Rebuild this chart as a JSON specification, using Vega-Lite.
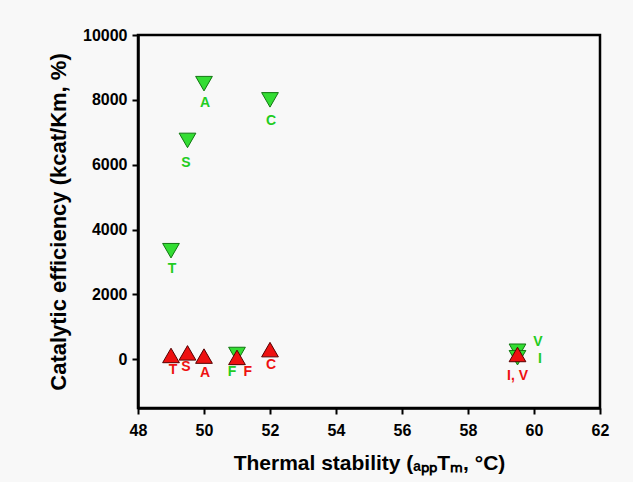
{
  "$schema": "https://vega.github.io/schema/vega-lite/v6.json",
  "width": 462,
  "height": 373,
  "autosize": "none",
  "padding": {"left": 138, "top": 35, "right": 33, "bottom": 74},
  "background": "#f8f8f8",
  "config": {"view": {"stroke": "black", "strokeWidth": 2.5}, "font": "Liberation Sans"},
  "datasets": {
    "points": [
      {"series": "green", "mutant": "T", "tm": 49, "eff": 3350},
      {"series": "green", "mutant": "S", "tm": 49.5, "eff": 6750},
      {"series": "green", "mutant": "A", "tm": 50, "eff": 8500},
      {"series": "green", "mutant": "C", "tm": 52, "eff": 8000},
      {"series": "green", "mutant": "F", "tm": 51, "eff": 150},
      {"series": "green", "mutant": "V", "tm": 59.5, "eff": 250},
      {"series": "green", "mutant": "I", "tm": 59.5, "eff": 50},
      {"series": "red", "mutant": "T", "tm": 49, "eff": 120},
      {"series": "red", "mutant": "S", "tm": 49.5, "eff": 200},
      {"series": "red", "mutant": "A", "tm": 50, "eff": 100},
      {"series": "red", "mutant": "F", "tm": 51, "eff": 60},
      {"series": "red", "mutant": "C", "tm": 52, "eff": 300},
      {"series": "red", "mutant": "I, V", "tm": 59.5, "eff": 150}
    ],
    "labels": [
      {"series": "green", "text": "T", "lx": 49.03, "ly": 2800},
      {"series": "green", "text": "S", "lx": 49.45, "ly": 6060},
      {"series": "green", "text": "A", "lx": 50.03, "ly": 7900},
      {"series": "green", "text": "C", "lx": 52.03, "ly": 7350},
      {"series": "green", "text": "F", "lx": 50.85, "ly": -400},
      {"series": "green", "text": "V", "lx": 60.12, "ly": 520},
      {"series": "green", "text": "I", "lx": 60.18, "ly": 0},
      {"series": "red", "text": "T", "lx": 49.06, "ly": -340},
      {"series": "red", "text": "S", "lx": 49.45, "ly": -250},
      {"series": "red", "text": "A", "lx": 50.03, "ly": -430},
      {"series": "red", "text": "F", "lx": 51.33, "ly": -400},
      {"series": "red", "text": "C", "lx": 52.03, "ly": -180},
      {"series": "red", "text": "I, V", "lx": 59.5, "ly": -520}
    ]
  },
  "layer": [
    {
      "data": {"name": "points"},
      "mark": {"type": "point", "filled": true, "size": 280, "strokeWidth": 1, "opacity": 1},
      "encoding": {
        "x": {
          "field": "tm", "type": "quantitative",
          "scale": {"domain": [48, 62], "nice": false, "zero": false},
          "axis": {
            "values": [48, 50, 52, 54, 56, 58, 60, 62],
            "title": "Thermal stability (ₐₚₚTₘ, °C)",
            "grid": false, "domainColor": "black", "domainWidth": 2.5,
            "tickColor": "black", "tickWidth": 2, "tickSize": 6,
            "labelFontSize": 16, "labelFontWeight": "bold", "labelColor": "black",
            "labelPadding": 8, "labelFlush": false,
            "titleFontSize": 21, "titleFontWeight": "bold", "titleColor": "black", "titlePadding": 14
          }
        },
        "y": {
          "field": "eff", "type": "quantitative",
          "scale": {"domain": [-1500, 10000], "nice": false, "zero": false},
          "axis": {
            "values": [0, 2000, 4000, 6000, 8000, 10000],
            "format": "d",
            "title": "Catalytic efficiency (kcat/Km, %)",
            "grid": false, "domainColor": "black", "domainWidth": 2.5,
            "tickColor": "black", "tickWidth": 2, "tickSize": 6,
            "labelFontSize": 16, "labelFontWeight": "bold", "labelColor": "black",
            "labelPadding": 5, "labelFlush": false,
            "titleFontSize": 22, "titleFontWeight": "bold", "titleColor": "black", "titlePadding": 12
          }
        },
        "shape": {"field": "series", "type": "nominal", "scale": {"domain": ["green", "red"], "range": ["triangle-down", "triangle-up"]}, "legend": null},
        "fill": {"field": "series", "type": "nominal", "scale": {"domain": ["green", "red"], "range": ["#33dd33", "#ee1111"]}, "legend": null},
        "stroke": {"field": "series", "type": "nominal", "scale": {"domain": ["green", "red"], "range": ["#117711", "#550000"]}, "legend": null}
      }
    },
    {
      "data": {"name": "labels"},
      "mark": {"type": "text", "fontWeight": "bold", "fontSize": 14, "baseline": "middle", "align": "center"},
      "encoding": {
        "x": {"field": "lx", "type": "quantitative"},
        "y": {"field": "ly", "type": "quantitative"},
        "text": {"field": "text", "type": "nominal"},
        "color": {"field": "series", "type": "nominal", "scale": {"domain": ["green", "red"], "range": ["#22cc22", "#ee1111"]}, "legend": null}
      }
    }
  ]
}
